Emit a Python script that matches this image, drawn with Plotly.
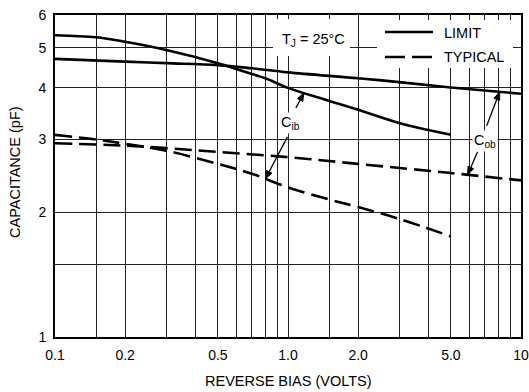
import numpy as np
import plotly.graph_objects as go

# Reverse bias (V) and capacitance (pF) for the four curves
cib_limit_v = [0.1, 0.15, 0.2, 0.3, 0.5, 0.7, 0.8, 1.0, 1.5, 2.0, 3.0, 5.0]
cib_limit_pf = [5.36, 5.30, 5.17, 4.94, 4.59, 4.32, 4.22, 4.00, 3.72, 3.54, 3.29, 3.08]

cob_limit_v = [0.1, 0.2, 0.3, 0.5, 0.7, 1.0, 2.0, 3.0, 5.0, 10.0]
cob_limit_pf = [4.70, 4.63, 4.59, 4.54, 4.46, 4.36, 4.22, 4.13, 4.01, 3.87]

cib_typ_v = [0.1, 0.15, 0.2, 0.3, 0.5, 0.7, 1.0, 1.5, 2.0, 3.0, 5.0]
cib_typ_pf = [3.08, 3.00, 2.93, 2.82, 2.62, 2.48, 2.30, 2.15, 2.06, 1.93, 1.75]

cob_typ_v = [0.1, 0.2, 0.3, 0.5, 1.0, 2.0, 5.0, 10.0]
cob_typ_pf = [2.94, 2.90, 2.86, 2.80, 2.72, 2.62, 2.49, 2.39]

x_ticks = [0.1, 0.2, 0.5, 1.0, 2.0, 5.0, 10.0]
x_ticktext = ["0.1", "0.2", "0.5", "1.0", "2.0", "5.0", "10"]
x_minor = [0.15, 0.3, 0.4, 0.6, 0.7, 0.8, 0.9, 1.5, 3.0, 4.0, 6.0, 7.0, 8.0, 9.0]
y_ticks = [1, 2, 3, 4, 5, 6]
y_ticktext = ["1", "2", "3", "4", "5", "6"]
y_minor = [1.5]

W, H = 529, 392
ML, MR, MT, MB = 55, 8, 15, 55
PW, PH = W - ML - MR, H - MT - MB
X_RANGE = [-1.0, 1.0]
Y_RANGE = [0.0, float(np.log10(6))]
FONT = "Liberation Sans, Arial, sans-serif"
INK = "black"


def px(x):
    return (x - ML) / PW


def py(y):
    return (H - MB - y) / PH


def data_to_pixel(v, c):
    """Position of (volts, pF) in page pixels on the log-log axes."""
    fx = (np.log10(v) - X_RANGE[0]) / (X_RANGE[1] - X_RANGE[0])
    fy = (np.log10(c) - Y_RANGE[0]) / (Y_RANGE[1] - Y_RANGE[0])
    return ML + fx * PW, H - MB - fy * PH


def on_curve(v, xs, ys):
    """Log-log interpolation of a curve at voltage v."""
    return 10 ** np.interp(np.log10(v), np.log10(xs), np.log10(ys))


solid = dict(color=INK, width=2.6, shape="spline")
dashed = dict(color=INK, width=2.6, shape="spline", dash="17px,7px")

fig = go.Figure()
fig.add_trace(go.Scatter(x=cib_limit_v, y=cib_limit_pf, mode="lines", line=solid))
fig.add_trace(go.Scatter(x=cob_limit_v, y=cob_limit_pf, mode="lines", line=solid))
fig.add_trace(go.Scatter(x=cib_typ_v, y=cib_typ_pf, mode="lines", line=dashed))
fig.add_trace(go.Scatter(x=cob_typ_v, y=cob_typ_pf, mode="lines", line=dashed))

shapes = []
# white panels behind the condition note and the key
for x0, y0, x1, y1 in [(273, 19, 350, 56), (377, 20, 513, 68)]:
    shapes.append(dict(type="rect", xref="paper", yref="paper", layer="above",
                       x0=px(x0), x1=px(x1), y0=py(y1), y1=py(y0),
                       fillcolor="white", line=dict(width=0)))
# key samples
shapes.append(dict(type="line", xref="paper", yref="paper",
                   x0=px(385), x1=px(433), y0=py(32), y1=py(32),
                   line=dict(color=INK, width=2.6)))
shapes.append(dict(type="line", xref="paper", yref="paper",
                   x0=px(385), x1=px(433), y0=py(57), y1=py(57),
                   line=dict(color=INK, width=2.6, dash="20px,7px")))

# pointer arrows from the labels to the curves: (volts, curve, tail offset in px)
pointers = [
    (1.17, cib_limit_v, cib_limit_pf, -8, 15),
    (0.80, cib_typ_v, cib_typ_pf, 22, -42),
    (8.1, cob_limit_v, cob_limit_pf, -13, 34),
    (5.9, cob_typ_v, cob_typ_pf, 10, -23),
]
for v, xs, ys, dx, dy in pointers:
    hx, hy = data_to_pixel(v, on_curve(v, xs, ys))
    tx, ty = hx + dx, hy + dy
    length = np.hypot(dx, dy)
    ux, uy = -dx / length, -dy / length   # tail -> head
    nx, ny = -uy, ux
    head_len, half_w = 8.0, 3.0
    bx, by = hx - ux * head_len, hy - uy * head_len
    shapes.append(dict(type="line", xref="paper", yref="paper", layer="above",
                       x0=px(tx), y0=py(ty), x1=px(bx), y1=py(by),
                       line=dict(color=INK, width=1.3)))
    pts = [(hx, hy), (bx + nx * half_w, by + ny * half_w), (bx - nx * half_w, by - ny * half_w)]
    path = "M " + " L ".join(f"{px(a):.5f},{py(b):.5f}" for a, b in pts) + " Z"
    shapes.append(dict(type="path", xref="paper", yref="paper", layer="above",
                       path=path, fillcolor=INK, line=dict(color=INK, width=1)))

text_font = dict(family=FONT, size=14.5, color=INK)
annotations = [
    dict(xref="paper", yref="paper", x=px(442), y=py(33), text="LIMIT",
         showarrow=False, xanchor="left", yanchor="middle", font=text_font),
    dict(xref="paper", yref="paper", x=px(442), y=py(57), text="TYPICAL",
         showarrow=False, xanchor="left", yanchor="middle", font=text_font),
    dict(xref="paper", yref="paper", x=px(313), y=py(40),
         text="T<sub>J</sub> = 25°C", showarrow=False,
         xanchor="center", yanchor="middle", font=text_font),
    dict(xref="paper", yref="paper", x=px(290), y=py(123),
         text="C<sub>ib</sub>", showarrow=False, bgcolor="white",
         xanchor="center", yanchor="middle", font=text_font),
    dict(xref="paper", yref="paper", x=px(485), y=py(141),
         text="C<sub>ob</sub>", showarrow=False, bgcolor="white",
         xanchor="center", yanchor="middle", font=text_font),
    # axis titles
    dict(xref="paper", yref="paper", x=px(288), y=py(381),
         text="REVERSE BIAS (VOLTS)", showarrow=False,
         xanchor="center", yanchor="middle", font=text_font),
    dict(xref="paper", yref="paper", x=px(15), y=py(172),
         text="CAPACITANCE (pF)", showarrow=False, textangle=-90,
         xanchor="center", yanchor="middle", font=text_font),
]

axis_common = dict(
    type="log", showline=True, linecolor=INK, linewidth=2, mirror=True,
    showgrid=True, gridcolor="#222222", gridwidth=1.4, zeroline=False,
    ticks="", tickfont=dict(family=FONT, size=14, color=INK), automargin=False,
)
minor_common = dict(ticks="", showgrid=True, gridcolor="#222222", gridwidth=1.4)

fig.update_layout(
    width=W, height=H,
    margin=dict(l=ML, r=MR, t=MT, b=MB),
    paper_bgcolor="white", plot_bgcolor="white",
    showlegend=False,
    shapes=shapes,
    annotations=annotations,
    xaxis=dict(axis_common, range=X_RANGE, tickmode="array",
               tickvals=x_ticks, ticktext=x_ticktext, ticklabelstandoff=4,
               minor=dict(minor_common, tickmode="array", tickvals=x_minor)),
    yaxis=dict(axis_common, range=Y_RANGE, tickmode="array",
               tickvals=y_ticks, ticktext=y_ticktext, ticklabelstandoff=4,
               minor=dict(minor_common, tickmode="array", tickvals=y_minor)),
)

fig.write_html("out.html")
